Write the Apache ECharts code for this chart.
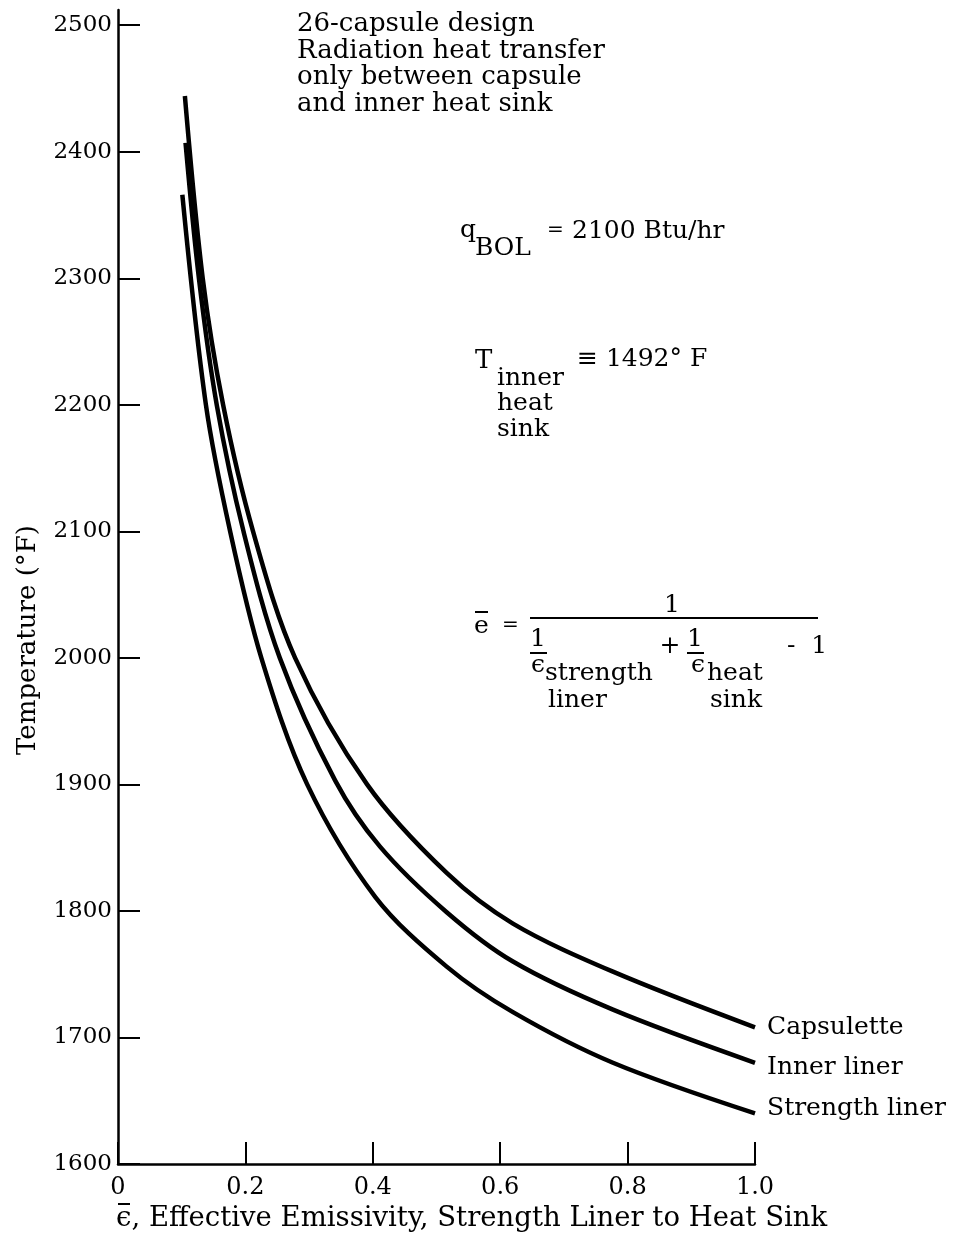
<!DOCTYPE html>
<html>
<head>
<meta charset="utf-8">
<script src="https://cdn.jsdelivr.net/npm/echarts@6/dist/echarts.min.js"></script>
<style>
  html, body { margin: 0; padding: 0; background: #fff; }
  #chart { width: 959px; height: 1238px; }
</style>
</head>
<body>
<div id="chart"></div>
<script>
// values: [emissivity, temperature °F]
const capsulette = [[0.105, 2444], [0.133, 2300], [0.165, 2200], [0.212, 2100], [0.278, 2000],
  [0.391, 1900], [0.516, 1830], [0.62, 1790], [0.777, 1752], [1.0, 1708]];
const innerLiner = [[0.106, 2407], [0.127, 2300], [0.155, 2200], [0.197, 2100], [0.254, 2000],
  [0.341, 1903], [0.411, 1851], [0.516, 1799], [0.62, 1760], [0.777, 1722], [1.0, 1680]];
const strengthLiner = [[0.101, 2366], [0.138, 2200], [0.176, 2100], [0.225, 2000], [0.297, 1900],
  [0.404, 1811], [0.516, 1756], [0.62, 1720], [0.777, 1680], [1.0, 1640]];

const seriesNames = ['Capsulette', 'Inner liner', 'Strength liner'];
const yTicks = [1600, 1700, 1800, 1900, 2000, 2100, 2200, 2300, 2400, 2500];

const FONT = 'DejaVu Serif';
const chart = echarts.init(document.getElementById('chart'));

// plain text helper for the annotations
function txt(x, y, s, size, align) {
  return {
    type: 'text', x: x, y: y,
    style: { text: s, fill: '#000', fontFamily: FONT, fontSize: size || 25,
      textAlign: align || 'left', textVerticalAlign: 'middle' }
  };
}
function bar(x1, y1, x2, y2, w) {
  return { type: 'line', shape: { x1: x1, y1: y1, x2: x2, y2: y2 }, style: { stroke: '#000', lineWidth: w || 1.5 } };
}

function curve(name, data, offY) {
  return {
    name: name, type: 'line', data: data,
    showSymbol: false, smooth: 0.33,
    lineStyle: { color: '#000', width: 4.5 },
    itemStyle: { color: '#000' },
    endLabel: { show: true, formatter: '{a}', color: '#000', fontFamily: FONT, fontSize: 25,
      distance: 12, offset: [0, offY] },
    emphasis: { disabled: true }
  };
}

const option = {
  backgroundColor: '#fff',
  animation: false,
  grid: { left: 118, right: 204, top: 10, bottom: 74 },
  xAxis: {
    type: 'value', min: 0, max: 1, interval: 0.2,
    axisLine: { lineStyle: { color: '#000', width: 2.5 } },
    axisTick: { inside: true, length: 22, lineStyle: { color: '#000', width: 2 } },
    axisLabel: { color: '#000', fontFamily: FONT, fontSize: 24, margin: 12,
      formatter: v => (v === 0 ? '0' : v.toFixed(1)) },
    splitLine: { show: false }
  },
  yAxis: {
    type: 'value', min: 1600, max: 2512, interval: 100,
    axisLine: { show: true, lineStyle: { color: '#000', width: 2.5 } },
    axisTick: { show: true, inside: true, length: 22, customValues: yTicks, lineStyle: { color: '#000', width: 2 } },
    axisLabel: { color: '#000', fontFamily: FONT, fontSize: 23, margin: 6, customValues: yTicks,
      formatter: v => String(v) },
    splitLine: { show: false }
  },
  series: [
    curve(seriesNames[0], capsulette, 0),
    curve(seriesNames[1], innerLiner, 5),
    curve(seriesNames[2], strengthLiner, -5)
  ],
  graphic: [
    {
      type: 'text', x: 297, y: 11,
      style: { text: '26-capsule design\nRadiation heat transfer\nonly between capsule\nand inner heat sink',
        fill: '#000', fontFamily: FONT, fontSize: 26, lineHeight: 26.6, textVerticalAlign: 'top' }
    },
    txt(460, 230, 'q'),
    txt(475, 248, 'BOL'),
    txt(547, 231, '=', 20),
    txt(572, 231, '2100 Btu/hr'),
    txt(475, 361, 'T', 26),
    txt(497, 378, 'inner'),
    txt(497, 403, 'heat'),
    txt(497, 429, 'sink'),
    txt(577, 359, '\u2261 1492\u00b0 F'),
    // effective emissivity definition
    txt(474, 626, 'e'),
    bar(475, 612, 488, 612, 2),
    txt(502, 626, '=', 20),
    bar(530, 618, 818, 618, 2),
    txt(672, 605, '1', 25, 'center'),
    txt(538, 639, '1', 25, 'center'),
    bar(530, 653, 547, 653, 2),
    txt(531, 665, '\u03f5'),
    txt(545, 673, 'strength'),
    txt(548, 700, 'liner'),
    txt(670, 646, '+', 25, 'center'),
    txt(695, 639, '1', 25, 'center'),
    bar(687, 653, 704, 653, 2),
    txt(691, 665, '\u03f5'),
    txt(707, 673, 'heat'),
    txt(710, 700, 'sink'),
    txt(787, 646, '-  1'),
    // axis titles
    {
      type: 'text', x: 28, y: 640, rotation: Math.PI / 2,
      style: { text: 'Temperature (\u00b0F)', fill: '#000', fontFamily: FONT, fontSize: 26,
        textAlign: 'center', textVerticalAlign: 'middle' }
    },
    txt(116, 1219, '\u03f5, Effective Emissivity, Strength Liner to Heat Sink', 27.5),
    bar(118, 1204, 130, 1204, 2)
  ]
};

chart.setOption(option);
</script>
</body>
</html>
